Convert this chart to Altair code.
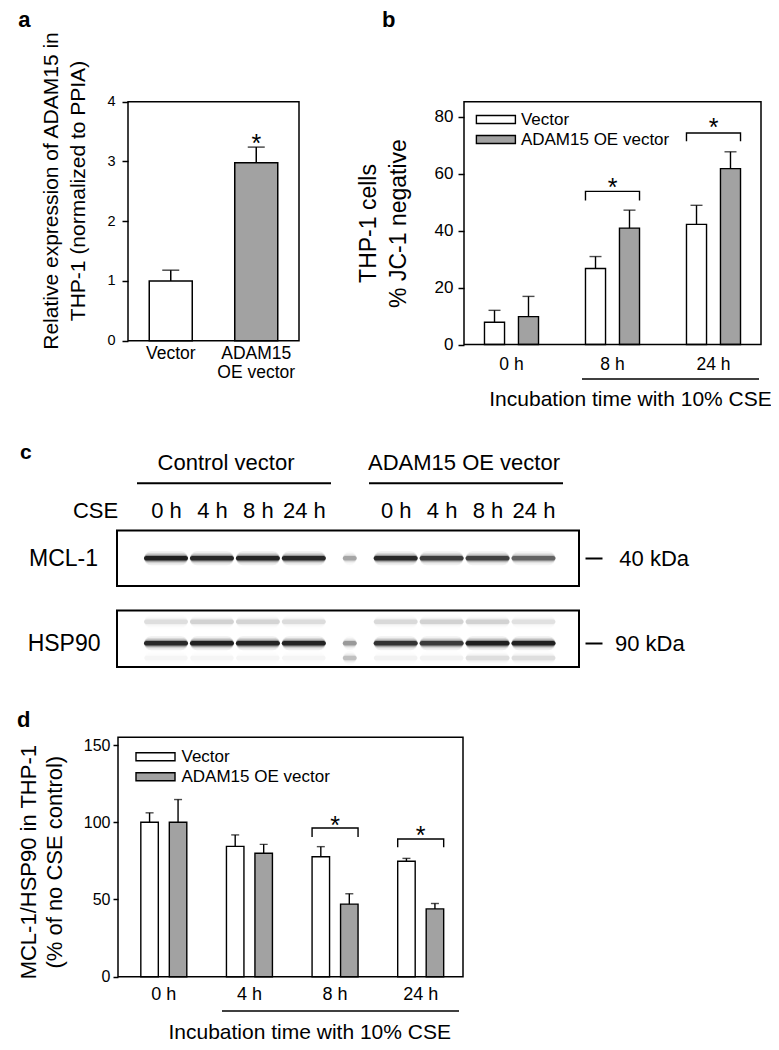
import altair as alt
import pandas as pd

FONT = "Liberation Sans"
GRAY = "#a2a2a2"
W, H = 763, 1034
M = 8  # page margin


def X(p):
    return p - M


def Y(p):
    return p - M


# ---------------- data ----------------
series = ["Vector", "ADAM15 OE vector"]

# panel a
a_groups = ["Vector", "ADAM15|OE vector"]
a_mean = [1.00, 2.98]
a_sem = [0.18, 0.26]
a_sig_group = ["ADAM15|OE vector"]
a_sig_star = [3.40]

# panel b
b_times = ["0 h", "8 h", "24 h"]
b_vector_mean = [7.8, 26.7, 42.2]
b_vector_sem = [4.2, 4.2, 6.7]
b_adam_mean = [9.8, 40.9, 61.8]
b_adam_sem = [7.1, 6.3, 5.9]
b_sig_times = ["8 h", "24 h"]
b_bracket_top = [53.8, 74.3]
b_bracket_foot = [50.6, 71.4]
b_star = [57.2, 78.3]

# panel c (western blot)
c_lanes = ["C0", "C4", "C8", "C24", "L", "A0", "A4", "A8", "A24"]
c_lane_labels = ["0 h", "4 h", "8 h", "24 h", "", "0 h", "4 h", "8 h", "24 h"]
c_lane_kind = ["sample"] * 4 + ["ladder"] + ["sample"] * 4
c_mcl1 = [0.97, 0.92, 0.94, 0.92, 0.30, 0.92, 0.78, 0.76, 0.58]
c_hsp90 = [0.92, 0.97, 0.95, 0.95, 0.35, 0.85, 0.80, 0.98, 0.97]
c_hsp90_upper = [0.10, 0.14, 0.13, 0.11, 0.00, 0.12, 0.14, 0.14, 0.09]
c_hsp90_lower = [0.03, 0.03, 0.03, 0.03, 0.20, 0.04, 0.04, 0.10, 0.10]
c_mcl1_migration = 0.50
c_hsp90_migration = [0.20, 0.58, 0.84]  # upper, main, lower

# panel d
d_times = ["0 h", "4 h", "8 h", "24 h"]
d_vector_mean = [100.0, 84.4, 77.7, 74.7]
d_vector_sem = [6.1, 7.4, 6.5, 1.9]
d_adam_mean = [100.0, 79.9, 47.0, 43.9]
d_adam_sem = [14.7, 5.8, 6.7, 3.5]
d_sig_times = ["8 h", "24 h"]
d_bracket_top = [96.3, 89.2]
d_bracket_foot = [90.5, 83.8]
d_star = [101.7, 95.2]

X_TITLE = "Incubation time with 10% CSE"


# ---------------- helpers ----------------
def frame(x0, x1, y0, y1, sw=1.5):
    df = pd.DataFrame({"l": [0.0], "r": [1.0], "b": [0.0], "t": [1.0]})
    return alt.Chart(df).mark_rect(fillOpacity=0, stroke="black", strokeWidth=sw).encode(
        x=alt.X("l:Q", scale=alt.Scale(domain=[0, 1], range=[X(x0), X(x1)], nice=False, zero=False), axis=None),
        x2="r:Q",
        y=alt.Y("b:Q", scale=alt.Scale(domain=[0, 1], range=[Y(y1), Y(y0)], nice=False, zero=False), axis=None),
        y2="t:Q",
    )


def text_at(s, x, y, size, weight="normal", align="left"):
    return alt.Chart(pd.DataFrame({"t": [s]})).mark_text(
        fontSize=size, fontWeight=weight, align=align, baseline="alphabetic", font=FONT, color="black"
    ).encode(text="t:N", x=alt.value(x), y=alt.value(y))


def hline(x0, x1, y, sw=1.5):
    return alt.Chart(pd.DataFrame({"k": [0]})).mark_rule(color="black", strokeWidth=sw).encode(
        x=alt.value(x0), x2=alt.value(x1), y=alt.value(y)
    )


PATH = "M-1,-1H8.75V1H-1Z"
STAR = 25


def grouped_panel(times, vmean, vsem, amean, asem, sig_times, btop, bfoot, bstar, *,
                  x_range, pad_inner, off_pad, y_domain, y_range, y_ticks, cap,
                  y_axis, x_axis, legend):
    df = pd.DataFrame({
        "time": times * 2,
        "series": [series[0]] * len(times) + [series[1]] * len(times),
        "mean": vmean + amean,
        "sem": vsem + asem,
    })

    def xs():
        return alt.Scale(domain=times, range=x_range, paddingInner=pad_inner, paddingOuter=pad_inner / 2)

    def xo():
        return alt.XOffset("series:N", sort=series,
                           scale=alt.Scale(domain=series, paddingInner=off_pad, paddingOuter=0))

    def xn():
        return alt.X("time:N", scale=xs(), sort=times, axis=None)

    def ys(field):
        return alt.Y(field, scale=alt.Scale(domain=y_domain, range=y_range, nice=False, zero=False), axis=None)

    base = alt.Chart(df).transform_calculate(hi="datum.mean + datum.sem")
    bars = base.mark_bar(stroke="black", strokeWidth=1.4).encode(
        x=alt.X("time:N", scale=xs(), sort=times, axis=alt.Axis(**x_axis)),
        xOffset=xo(),
        y=alt.Y("mean:Q", scale=alt.Scale(domain=y_domain, range=y_range, nice=False, zero=False),
                axis=alt.Axis(values=y_ticks, **y_axis)),
        fill=alt.Fill("series:N", scale=alt.Scale(domain=series, range=["white", GRAY]),
                      legend=alt.Legend(**legend)),
    )
    err = base.mark_rule(color="black", strokeWidth=1.4).encode(
        x=xn(), xOffset=xo(), y=ys("mean:Q"), y2="hi:Q")
    caps = base.mark_tick(color="black", thickness=1.4, size=cap).encode(
        x=xn(), xOffset=xo(), y=ys("hi:Q"))
    rows = []
    for t, top, foot in zip(sig_times, btop, bfoot):
        rows += [
            dict(time=t, series=series[0], yv=foot, k=0),
            dict(time=t, series=series[0], yv=top, k=1),
            dict(time=t, series=series[1], yv=top, k=2),
            dict(time=t, series=series[1], yv=foot, k=3),
        ]
    br = alt.Chart(pd.DataFrame(rows)).mark_line(color="black", strokeWidth=1.4).encode(
        x=xn(), xOffset=xo(), y=ys("yv:Q"), detail="time:N", order="k:Q")
    stars = alt.Chart(pd.DataFrame({"time": sig_times, "ys": bstar})).mark_text(
        text="*", fontSize=STAR, baseline="alphabetic", dy=14, font=FONT, color="black").encode(
        x=xn(), y=ys("ys:Q"))
    return [bars, err, caps, br, stars]


# ---------------- panel a ----------------
a_df = pd.DataFrame({"group": a_groups, "mean": a_mean, "sem": a_sem})


def a_xs():
    return alt.Scale(domain=a_groups, range=[X(128), X(299)], paddingInner=0.497, paddingOuter=0.2485)


def a_ys():
    return alt.Scale(domain=[0, 4], range=[Y(340.7), Y(101.7)], nice=False, zero=False)


a_base = alt.Chart(a_df).transform_calculate(hi="datum.mean + datum.sem")
a_bars = a_base.mark_bar(stroke="black", strokeWidth=1.5).encode(
    x=alt.X("group:N", scale=a_xs(), sort=a_groups, axis=alt.Axis(
        orient="bottom", offset=-(H - Y(340.7)), labelExpr="split(datum.label, '|')",
        labelFontSize=17.5, labelPadding=17.8, labelBaseline="alphabetic", labelLineHeight=19,
        labelAngle=0, ticks=False, tickSize=0, domain=False, title=None)),
    y=alt.Y("mean:Q", scale=a_ys(), axis=alt.Axis(
        orient="left", offset=-X(128), values=[0, 1, 2, 3, 4], tickSize=6, tickWidth=1.5,
        labelFontSize=14.5, labelPadding=7, domain=False,
        title=["Relative expression of ADAM15 in", "THP-1 (normalized to PPIA)"],
        titleFontSize=21, titleFontWeight="normal", titleAngle=270, titleAlign="center",
        titleBaseline="middle", titleLineHeight=27, titleX=-76.5, titleY=Y(190.5))),
    fill=alt.Fill("group:N", scale=alt.Scale(domain=a_groups, range=["white", GRAY]), legend=None),
)
a_err = a_base.mark_rule(color="black", strokeWidth=1.5).encode(
    x=alt.X("group:N", scale=a_xs(), sort=a_groups, axis=None),
    y=alt.Y("mean:Q", scale=a_ys(), axis=None), y2="hi:Q")
a_cap = a_base.mark_tick(color="black", thickness=1.5, size=17).encode(
    x=alt.X("group:N", scale=a_xs(), sort=a_groups, axis=None),
    y=alt.Y("hi:Q", scale=a_ys(), axis=None))
a_star = alt.Chart(pd.DataFrame({"group": a_sig_group, "ys": a_sig_star})).mark_text(
    text="*", fontSize=STAR, baseline="alphabetic", dy=14, font=FONT, color="black").encode(
    x=alt.X("group:N", scale=a_xs(), sort=a_groups, axis=None),
    y=alt.Y("ys:Q", scale=a_ys(), axis=None))
panel_a = [a_bars, a_err, a_cap, a_star, frame(128, 299, 101.7, 340.7)]

# ---------------- panel b ----------------
panel_b = grouped_panel(
    b_times, b_vector_mean, b_vector_sem, b_adam_mean, b_adam_sem,
    b_sig_times, b_bracket_top, b_bracket_foot, b_star,
    x_range=[X(461), X(764)], pad_inner=0.465, off_pad=0.41,
    y_domain=[0, 85.3], y_range=[Y(344.5), Y(101.7)], y_ticks=[0, 20, 40, 60, 80], cap=12,
    y_axis=dict(orient="left", offset=-X(464), tickSize=6, tickWidth=1.5, labelFontSize=17,
                labelPadding=5, domain=False, title=["THP-1 cells", "% JC-1 negative"],
                titleFontSize=23, titleFontWeight="normal", titleAngle=270, titleAlign="center",
                titleBaseline="middle", titleLineHeight=30, titleX=-95.5, titleY=Y(223)),
    x_axis=dict(orient="bottom", offset=-(H - Y(344.5)), labelFontSize=17.5, labelPadding=24.5,
                labelBaseline="alphabetic", labelAngle=0, ticks=False, tickSize=0, domain=False,
                title=X_TITLE, titleFontSize=21, titleFontWeight="normal", titleX=X(630),
                titleY=61.2, titleAlign="center", titleBaseline="alphabetic"),
    legend=dict(orient="none", legendX=463.9, legendY=103, title=None, symbolType=PATH,
                symbolSize=64, symbolStrokeColor="black", symbolStrokeWidth=1.4,
                labelFontSize=17, labelOffset=32, rowPadding=2, padding=0, labelLimit=300),
) + [frame(464, 761, 101.7, 344.5)]

# ---------------- panel c ----------------
lane_label_expr = (
    "[" + ",".join(f"'{s}'" for s in c_lane_labels) + "][indexof(["
    + ",".join(f"'{s}'" for s in c_lanes) + "], datum.value)]"
)


def blot(name, rows, box_top, box_bottom, label_pos, kda, kda_pad, name_pad, lane_axis):
    df = pd.DataFrame(rows)

    def xs():
        return alt.Scale(type="point", domain=c_lanes, range=[X(166), X(533.5)], padding=0)

    def ys():
        return alt.Scale(domain=[0, 1], range=[Y(box_top), Y(box_bottom)], nice=False, zero=False)

    fdf = pd.DataFrame({"l": [0.0], "r": [1.0], "t": [0.0], "b": [1.0]})
    fr = alt.Chart(fdf).mark_rect(fillOpacity=0, stroke="black", strokeWidth=2).encode(
        x=alt.X("l:Q", scale=alt.Scale(domain=[0, 1], range=[X(117), X(579)], nice=False, zero=False), axis=None),
        x2="r:Q",
        y=alt.Y("t:Q", scale=ys(), axis=alt.Axis(
            orient="left", offset=-X(117), values=[label_pos], labelExpr=f"'{name}'", ticks=False,
            tickSize=0, domain=False, labelFontSize=23, labelPadding=name_pad, title=None)),
        y2="b:Q",
    )
    base = alt.Chart(df).transform_calculate(
        o1="datum.intensity*0.07", o2="datum.intensity*0.14", o3="datum.intensity*0.30",
        o4="datum.intensity*0.80")
    layers = [fr]
    specs = [(14, "o1:Q"), (10, "o2:Q"), (7, "o3:Q"), (4.5, "o4:Q")]
    for i, (th, op) in enumerate(specs):
        if i == 0:
            xenc = alt.X("lane:N", scale=xs(), sort=c_lanes, axis=lane_axis)
            yenc = alt.Y("pos:Q", scale=ys(), axis=alt.Axis(
                orient="right", offset=X(585) - W, values=[label_pos], labelExpr=f"'{kda}'",
                tickSize=17, tickWidth=2, domain=False, labelFontSize=22, labelPadding=kda_pad,
                title=None))
        else:
            xenc = alt.X("lane:N", scale=xs(), sort=c_lanes, axis=None)
            yenc = alt.Y("pos:Q", scale=ys(), axis=None)
        layers.append(base.mark_tick(color="black", thickness=th, cornerRadius=th / 2).encode(
            x=xenc, y=yenc,
            size=alt.Size("kind:N", scale=alt.Scale(domain=["sample", "ladder"], range=[44, 14]), legend=None),
            opacity=alt.Opacity(op, scale=None)))
    return layers


lane_axis = alt.Axis(
    orient="top", offset=-Y(530.5), values=[l for l in c_lanes if l != "L"], labelExpr=lane_label_expr,
    ticks=False, tickSize=0, domain=False, labelFontSize=22, labelPadding=13.5, labelBaseline="alphabetic",
    labelAngle=0, title="CSE", titleX=X(95), titleY=-13.5, titleAlign="center",
    titleBaseline="alphabetic", titleFontSize=22, titleFontWeight="normal", titleAngle=0)

mcl_rows = [dict(lane=l, pos=c_mcl1_migration, intensity=v, kind=k)
            for l, v, k in zip(c_lanes, c_mcl1, c_lane_kind)]
hsp_rows = []
for l, u, v, lo, k in zip(c_lanes, c_hsp90_upper, c_hsp90, c_hsp90_lower, c_lane_kind):
    hsp_rows.append(dict(lane=l, pos=c_hsp90_migration[0], intensity=u, kind=k))
    hsp_rows.append(dict(lane=l, pos=c_hsp90_migration[1], intensity=v, kind=k))
    hsp_rows.append(dict(lane=l, pos=c_hsp90_migration[2], intensity=lo, kind=k))

panel_c = (blot("MCL-1", mcl_rows, 530.5, 586, c_mcl1_migration, "40 kDa", 16.8, 19.5, lane_axis)
           + blot("HSP90", hsp_rows, 610.5, 667, c_hsp90_migration[1], "90 kDa", 12.5, 17, None))

# ---------------- panel d ----------------
panel_d = grouped_panel(
    d_times, d_vector_mean, d_vector_sem, d_adam_mean, d_adam_sem,
    d_sig_times, d_bracket_top, d_bracket_foot, d_star,
    x_range=[X(121), X(463.5)], pad_inner=0.463, off_pad=0.386,
    y_domain=[0, 155], y_range=[Y(976.7), Y(737.3)], y_ticks=[0, 50, 100, 150], cap=8,
    y_axis=dict(orient="left", offset=-X(118), tickSize=5, tickWidth=1.5, labelFontSize=16,
                labelPadding=3, domain=False, title=["MCL-1/HSP90 in THP-1", "(% of no CSE control)"],
                titleFontSize=22, titleFontWeight="normal", titleAngle=270, titleAlign="center",
                titleBaseline="middle", titleLineHeight=26, titleX=-90, titleY=Y(861.7)),
    x_axis=dict(orient="bottom", offset=-(H - Y(976.7)), labelFontSize=18, labelPadding=22.6,
                labelBaseline="alphabetic", labelAngle=0, ticks=False, tickSize=0, domain=False,
                title=X_TITLE, titleFontSize=21, titleFontWeight="normal", titleX=X(309.2),
                titleY=61.6, titleAlign="center", titleBaseline="alphabetic"),
    legend=dict(orient="none", legendX=123.5, legendY=740.2, title=None, symbolType=PATH,
                symbolSize=64, symbolStrokeColor="black", symbolStrokeWidth=1.4,
                labelFontSize=17, labelOffset=33, rowPadding=2, padding=0, labelLimit=300),
) + [frame(118, 463, 737.3, 976.7)]

# ---------------- annotations ----------------
notes = [
    text_at("a", X(18.3), Y(26.7), 22, "bold"),
    text_at("b", X(382), Y(27), 22, "bold"),
    text_at("c", X(20), Y(459.3), 21, "bold"),
    text_at("d", X(17), Y(727), 22, "bold"),
    text_at("Control vector", X(226), Y(470), 22, align="center"),
    text_at("ADAM15 OE vector", X(464), Y(470), 22, align="center"),
    hline(X(137), X(331), Y(483.3), 2),
    hline(X(369), X(563), Y(483.3), 2),
    hline(X(582), X(759), Y(379), 1.4),     # panel b: CSE-exposed groups
    hline(X(222), X(459), Y(1011), 1.4),    # panel d: CSE-exposed groups
]

chart = alt.layer(
    *panel_a, *panel_b, *panel_c, *panel_d, *notes
).resolve_scale(
    x="independent", y="independent", xOffset="independent", fill="independent",
    size="independent", opacity="independent"
).properties(
    width=W, height=H, padding=0, autosize=alt.AutoSizeParams(type="none")
).configure_view(stroke=None).configure_axis(
    labelFont=FONT, titleFont=FONT, labelColor="black", titleColor="black",
    tickColor="black", domainColor="black", grid=False, titleFontWeight="normal"
).configure_text(font=FONT).configure_legend(labelFont=FONT, labelColor="black")

chart.save("out.html", embed_options={"renderer": "svg", "actions": False})
